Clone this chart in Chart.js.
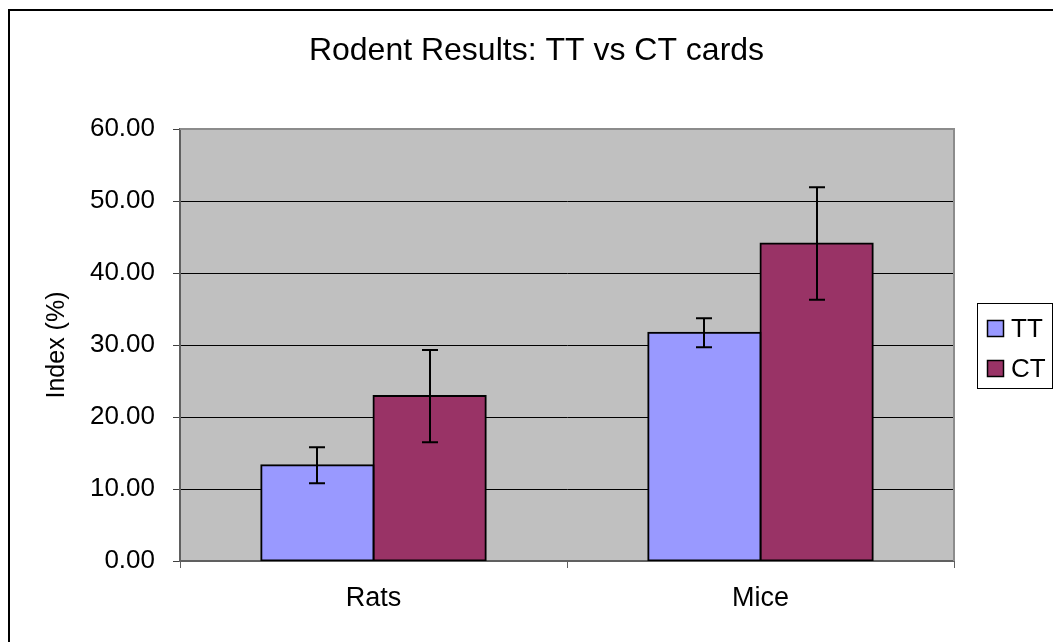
<!DOCTYPE html>
<html><head><meta charset="utf-8">
<script src="https://cdn.jsdelivr.net/npm/chart.js@4"></script>
<style>html,body{margin:0;padding:0;background:#fff;overflow:hidden}</style>
</head><body>
<canvas id="c" width="1053" height="642" style="display:block;width:1053px;height:642px"></canvas>
<script>
const categories = ['Rats', 'Mice'];
const seriesNames = ['TT', 'CT'];
const ttValues = [13.3, 31.7];
const ctValues = [22.9, 44.1];
const ttErrors = [2.5, 2.0];
const ctErrors = [6.4, 7.8];
const yTicks = [0, 10, 20, 30, 40, 50, 60];
const titleText = 'Rodent Results: TT vs CT cards';
const yTitle = 'Index (%)';

const FONT = '"Liberation Sans", Arial, sans-serif';
const seriesColors = ['#9999FF', '#993366'];
const errors = [ttErrors, ctErrors];

const bgPlugin = {
  id: 'bg',
  beforeDraw(chart) {
    const {ctx, chartArea: a} = chart;
    ctx.save();
    ctx.fillStyle = '#fff';
    ctx.fillRect(0, 0, chart.width, chart.height);
    ctx.strokeStyle = '#000';
    ctx.lineWidth = 2;
    ctx.beginPath();
    ctx.moveTo(9, chart.height + 5);
    ctx.lineTo(9, 10);
    ctx.lineTo(chart.width + 5, 10);
    ctx.stroke();
    ctx.fillStyle = '#C0C0C0';
    ctx.fillRect(a.left, a.top, a.right - a.left, a.bottom - a.top);
    ctx.restore();
  },
  beforeDatasetsDraw(chart) {
    const {ctx, chartArea: a} = chart;
    ctx.save();
    ctx.strokeStyle = '#8c8c8c';
    ctx.lineWidth = 2;
    ctx.beginPath();
    ctx.moveTo(a.left, a.top);
    ctx.lineTo(a.right, a.top);
    ctx.lineTo(a.right, a.bottom);
    ctx.stroke();
    ctx.restore();
  }
};

const errorPlugin = {
  id: 'errbars',
  afterDatasetsDraw(chart) {
    const {ctx} = chart;
    const y = chart.scales.y;
    ctx.save();
    ctx.strokeStyle = '#000';
    ctx.lineWidth = 2;
    chart.data.datasets.forEach((ds, i) => {
      const meta = chart.getDatasetMeta(i);
      meta.data.forEach((bar, j) => {
        const v = ds.data[j], e = errors[i][j];
        const x = Math.round(bar.x);
        const yt = y.getPixelForValue(v + e);
        const yb = y.getPixelForValue(v - e);
        ctx.beginPath();
        ctx.moveTo(x, yt); ctx.lineTo(x, yb);
        ctx.moveTo(x - 8, yt); ctx.lineTo(x + 8, yt);
        ctx.moveTo(x - 8, yb); ctx.lineTo(x + 8, yb);
        ctx.stroke();
      });
    });
    ctx.restore();
  }
};

const textPlugin = {
  id: 'texts',
  afterDraw(chart) {
    const {ctx} = chart;
    ctx.save();
    ctx.fillStyle = '#000';
    ctx.font = '32px ' + FONT;
    ctx.textAlign = 'center';
    ctx.textBaseline = 'alphabetic';
    ctx.fillText(titleText, 536.5, 60);
    ctx.fillStyle = '#fff';
    ctx.fillRect(977.5, 303.5, 75, 85);
    ctx.strokeStyle = '#000';
    ctx.lineWidth = 1;
    ctx.strokeRect(977.5, 303.5, 75, 85);
    ctx.font = '26px ' + FONT;
    ctx.textAlign = 'left';
    ctx.textBaseline = 'middle';
    chart.data.datasets.forEach((ds, i) => {
      const cy = 329 + i * 40;
      ctx.fillStyle = ds.backgroundColor;
      ctx.fillRect(987.5, cy - 8.5, 16, 16);
      ctx.strokeStyle = '#000';
      ctx.lineWidth = 1.5;
      ctx.strokeRect(987.5, cy - 8.5, 16, 16);
      ctx.fillStyle = '#000';
      ctx.fillText(ds.label, 1011, cy + 1);
    });
    ctx.restore();
  }
};

new Chart(document.getElementById('c'), {
  type: 'bar',
  data: {
    labels: categories,
    datasets: [
      {label: seriesNames[0], data: ttValues, backgroundColor: seriesColors[0], borderColor: '#000', borderWidth: 2, borderSkipped: false, inflateAmount: 1},
      {label: seriesNames[1], data: ctValues, backgroundColor: seriesColors[1], borderColor: '#000', borderWidth: 2, borderSkipped: false, inflateAmount: 1}
    ]
  },
  options: {
    responsive: false,
    animation: false,
    devicePixelRatio: 1,
    layout: {padding: {left: 9, right: 99, top: 129, bottom: 0}},
    datasets: {bar: {barPercentage: 1.0, categoryPercentage: 0.58}},
    plugins: {legend: {display: false}, title: {display: false}, tooltip: {enabled: false}},
    scales: {
      x: {
        offset: true,
        grid: {offset: true, drawOnChartArea: false, drawTicks: true, tickLength: 7, color: '#606060', lineWidth: 1},
        border: {display: true, color: '#606060', width: 2},
        ticks: {color: '#000', font: {family: FONT, size: 27}, padding: 14},
        afterFit: s => { s.height = 81; }
      },
      y: {
        min: 0, max: 60,
        afterBuildTicks: s => { s.ticks = yTicks.map(v => ({value: v})); },
        grid: {
          color: c => (c.tick && c.tick.value === 60) ? '#8c8c8c' : '#000',
          tickColor: '#404040',
          tickLength: 7, lineWidth: 1
        },
        border: {display: true, color: '#606060', width: 2},
        ticks: {color: '#000', font: {family: FONT, size: 26}, padding: 18, callback: v => Number(v).toFixed(2)},
        title: {display: true, text: yTitle, color: '#000', font: {family: FONT, size: 25}, padding: {top: 33, bottom: 0}},
        afterFit: s => { s.width = 171; }
      }
    }
  },
  plugins: [bgPlugin, errorPlugin, textPlugin]
});
</script>
</body></html>
